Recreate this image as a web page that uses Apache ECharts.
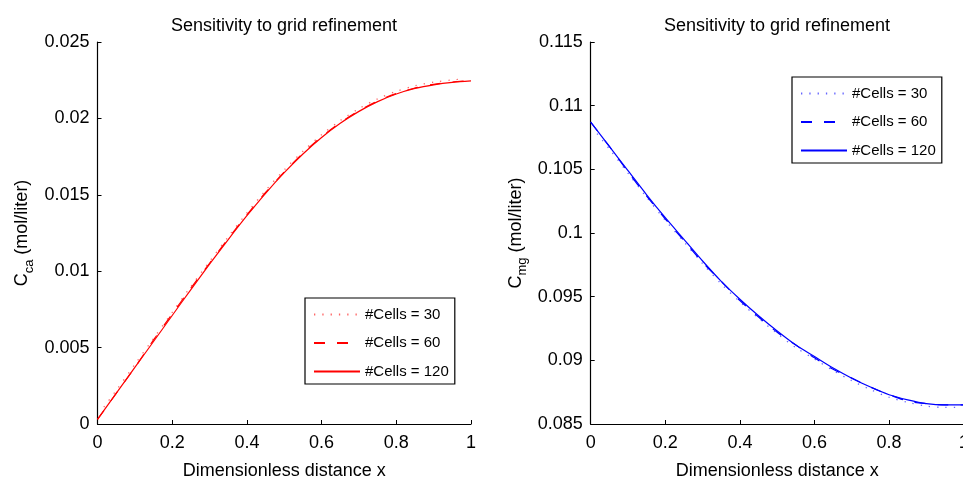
<!DOCTYPE html>
<html>
<head>
<meta charset="utf-8">
<script src="https://cdn.jsdelivr.net/npm/echarts@6/dist/echarts.min.js"></script>
<style>
html,body{margin:0;padding:0;background:#fff;}
#chart{width:963px;height:477px;}
</style>
</head>
<body>
<div id="chart"></div>
<script>
// Dimensionless distance sample positions
const xFine = [0, 0.05, 0.1, 0.15, 0.2, 0.25, 0.3, 0.35, 0.4, 0.45, 0.5, 0.55, 0.6, 0.65, 0.7, 0.75, 0.8, 0.85, 0.9, 0.95, 1.0];
const xCoarse = [0.017, 0.05, 0.1, 0.15, 0.2, 0.25, 0.3, 0.35, 0.4, 0.45, 0.5, 0.55, 0.6, 0.65, 0.7, 0.75, 0.8, 0.85, 0.9, 0.95, 0.983];

// C_ca (mol/liter)
const ca120 = [0.0003, 0.0020, 0.0037, 0.0054, 0.0071, 0.0088, 0.01046, 0.01207, 0.01363, 0.0151, 0.01645, 0.01767, 0.01875, 0.01968, 0.02046, 0.0211, 0.0216, 0.02196, 0.0222, 0.02236, 0.02245];
const ca60  = [0.0003, 0.0020, 0.0037, 0.0055, 0.0072, 0.0089, 0.01052, 0.01213, 0.01369, 0.01515, 0.0165, 0.01772, 0.0188, 0.01972, 0.0205, 0.02114, 0.02163, 0.02199, 0.02223, 0.02238, 0.02247];
const ca30  = [0.0011, 0.0022, 0.0039, 0.0056, 0.0073, 0.0090, 0.01064, 0.01225, 0.01381, 0.01528, 0.01663, 0.01785, 0.01893, 0.01986, 0.02064, 0.02128, 0.02177, 0.02213, 0.02237, 0.02252, 0.02258];

// C_mg (mol/liter)
const mg120 = [0.1087, 0.1068, 0.1049, 0.1030, 0.1012, 0.0995, 0.0978, 0.0962, 0.0948, 0.0935, 0.0923, 0.0912, 0.0903, 0.0894, 0.0886, 0.0879, 0.0873, 0.0869, 0.0866, 0.0865, 0.0865];
const mg60  = [0.1087, 0.1068, 0.1048, 0.1029, 0.1011, 0.0994, 0.0977, 0.0962, 0.0947, 0.0934, 0.0922, 0.0912, 0.0902, 0.0893, 0.0886, 0.0879, 0.0873, 0.0868, 0.0866, 0.0865, 0.0865];
const mg30  = [0.1078, 0.1066, 0.1047, 0.1028, 0.1010, 0.0993, 0.0976, 0.0960, 0.0946, 0.0933, 0.0921, 0.0910, 0.0901, 0.0892, 0.0884, 0.0877, 0.0871, 0.0867, 0.0864, 0.0863, 0.0863];

const seriesNames = ['#Cells = 30', '#Cells = 60', '#Cells = 120'];
const titleText = 'Sensitivity to grid refinement';
const xName = 'Dimensionless distance x';

// invisible suffix keeps the two panels' legends bound to their own series
const ZW = '\u200b';
const leftNames = seriesNames.slice();
const rightNames = seriesNames.map(n => n + ZW);

function pairs(xs, ys) { return xs.map((x, i) => [x, ys[i]]); }

const FONT = '"Liberation Sans", Arial, Helvetica, sans-serif';
const RED = '#ff0000';
const BLUE = '#0000ff';

function mkSeries(idx, names, color, d30, d60, d120) {
  return [
    { name: names[0], type: 'line', xAxisIndex: idx, yAxisIndex: idx, data: d30, smooth: 0.3,
      symbol: 'none', lineStyle: { color: color, width: 1.3, type: [1.3, 7], opacity: 0.6 }, itemStyle: { color: color }, z: 3 },
    { name: names[1], type: 'line', xAxisIndex: idx, yAxisIndex: idx, data: d60, smooth: 0.3,
      symbol: 'none', lineStyle: { color: color, width: 1.2, type: [11, 12] }, itemStyle: { color: color }, z: 4 },
    { name: names[2], type: 'line', xAxisIndex: idx, yAxisIndex: idx, data: d120, smooth: 0.3,
      symbol: 'none', lineStyle: { color: color, width: 1.2, type: 'solid' }, itemStyle: { color: color }, z: 5 }
  ];
}

function mkX(idx) {
  return {
    type: 'value', gridIndex: idx, min: 0, max: 1, interval: 0.2,
    name: xName, nameLocation: 'middle', nameGap: 38,
    nameTextStyle: { color: '#000', fontSize: 18, fontFamily: FONT },
    axisLine: { show: true, onZero: false, lineStyle: { color: '#000', width: 1.2 } },
    axisTick: { show: true, inside: true, length: 4, lineStyle: { color: '#000' } },
    axisLabel: { color: '#000', fontSize: 18, fontFamily: FONT, margin: 10,
      formatter: v => String(+v.toFixed(1)) },
    splitLine: { show: false }
  };
}

function mkY(idx, min, max, interval, sub, dec) {
  return {
    type: 'value', gridIndex: idx, min: min, max: max, interval: interval,
    name: '{a|C}{b|' + sub + '}{a| (mol/liter)}', nameLocation: 'middle', nameRotate: 90, nameGap: 62,
    nameTextStyle: {
      color: '#000', fontFamily: FONT,
      rich: {
        a: { fontSize: 18, fontFamily: FONT, color: '#000', lineHeight: 26, verticalAlign: 'middle' },
        b: { fontSize: 13, fontFamily: FONT, color: '#000', lineHeight: 26, verticalAlign: 'bottom', padding: [0, 0, 0, 0] }
      }
    },
    axisLine: { show: true, onZero: false, lineStyle: { color: '#000', width: 1.2 } },
    axisTick: { show: true, inside: true, length: 4, lineStyle: { color: '#000' } },
    axisLabel: { color: '#000', fontSize: 18, fontFamily: FONT, margin: 8,
      formatter: v => String(+v.toFixed(dec)) },
    splitLine: { show: false }
  };
}

function mkLegend(left, top, names) {
  return {
    left: left, top: top, orient: 'vertical',
    data: names.map(n => ({ name: n })),
    formatter: n => n.replace(ZW, ''),
    itemWidth: 46, itemHeight: 14, itemGap: 13.5,
    padding: [9, 6, 5, 8],
    borderColor: '#000', borderWidth: 1.2, backgroundColor: '#fff',
    textStyle: { color: '#000', fontSize: 15, fontFamily: FONT, padding: [0, 0, 0, 0] },
    itemStyle: { opacity: 0 },
    selectedMode: false
  };
}

const chart = echarts.init(document.getElementById('chart'), null, { renderer: 'canvas' });

const option = {
  backgroundColor: '#fff',
  animation: false,
  title: [
    { text: titleText, left: 284, top: 17, textAlign: 'center', padding: 0,
      textStyle: { color: '#000', fontSize: 18, fontWeight: 'normal', fontFamily: FONT } },
    { text: titleText, left: 777, top: 17, textAlign: 'center', padding: 0,
      textStyle: { color: '#000', fontSize: 18, fontWeight: 'normal', fontFamily: FONT } }
  ],
  grid: [
    { left: 97.5, right: 492, top: 42, bottom: 53, containLabel: false, outerBoundsMode: 'none' },
    { left: 590.7, right: -0.7, top: 42, bottom: 53, containLabel: false, outerBoundsMode: 'none' }
  ],
  xAxis: [mkX(0), mkX(1)],
  yAxis: [mkY(0, 0, 0.025, 0.005, 'ca', 3), mkY(1, 0.085, 0.115, 0.005, 'mg', 3)],
  legend: [
    mkLegend(305, 298, leftNames),
    mkLegend(792, 77, rightNames)
  ],
  series: []
};

const left = mkSeries(0, leftNames, RED, pairs(xCoarse, ca30), pairs(xFine, ca60), pairs(xFine, ca120));
const right = mkSeries(1, rightNames, BLUE, pairs(xCoarse, mg30), pairs(xFine, mg60), pairs(xFine, mg120));
option.series = left.concat(right);

chart.setOption(option);
</script>
</body>
</html>
